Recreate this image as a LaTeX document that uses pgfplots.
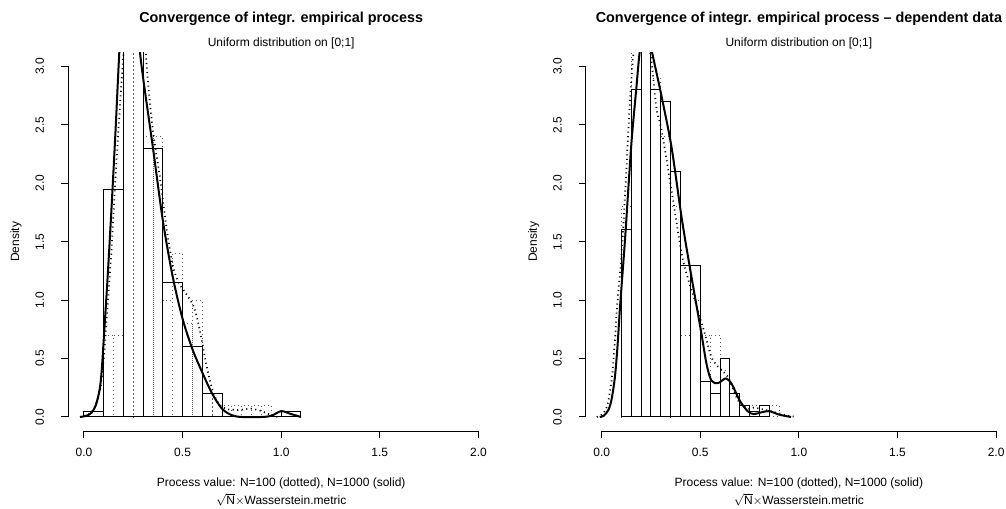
\documentclass[border=0pt]{standalone}
\usepackage{fontspec}
\setmainfont{Liberation Sans}
\usepackage{pgfplots}
\pgfplotsset{compat=1.18}
\pgfplotsset{
 rpanel/.style={
  scale only axis, width=319.5pt, height=284.0pt,
  xmin=-0.08, xmax=2.08, ymin=-0.12, ymax=3.12,
  axis line style={draw=none},
  tick pos=left, tick align=outside,
  major tick length=5.25pt,
  tick style={black, line width=0.75pt},
  xtick={0,0.5,1,1.5,2}, ytick={0,0.5,1,1.5,2,2.5,3},
  minor tick num=0,
  /pgf/number format/fixed, /pgf/number format/fixed zerofill,
  /pgf/number format/precision=1, /pgf/number format/assume math mode=true,
  ticklabel style={font=\fontsize{9}{10}\selectfont, inner sep=0pt},
  xticklabel style={anchor=north},
  yticklabel style={rotate=90, anchor=south},
  xticklabel shift=7.3pt, yticklabel shift=12.7pt,
  clip mode=individual,
 },
 solidhist/.style={ybar interval, draw=black, line width=0.75pt, fill=none},
 dothist/.style={ybar interval, draw=black!65, line width=0.75pt, fill=none, dash pattern=on 0.75pt off 2.25pt},
 soliddens/.style={black, line width=1.5pt, smooth, tension=0.5, mark=none},
 dotdens/.style={black, line width=1.3pt, smooth, tension=0.5, mark=none, dash pattern=on 0.8pt off 2.6pt},
}
\begin{document}
\begin{tikzpicture}
% ---------------- left panel ----------------
\begin{scope}[shift={(51.15pt,57.75pt)}]
\begin{axis}[rpanel, at={(0pt,0pt)}, anchor=south west]
\addplot[dothist] coordinates {(0.10,0.7) (0.15,0.7) (0.20,4.3) (0.25,4.4) (0.30,2.4) (0.35,2.4) (0.40,1.0) (0.45,1.4) (0.50,0.8) (0.55,1.0) (0.60,0.2) (0.65,0.2) (0.70,0.1) (0.75,0.1) (0.80,0.1) (0.85,0.1) (0.90,0.1) (0.95,0)};
\addplot[solidhist] coordinates {(0,0.05) (0.1,1.95) (0.2,3.7) (0.3,2.3) (0.4,1.15) (0.5,0.6) (0.6,0.2) (0.7,0) (0.8,0) (0.9,0) (1.0,0.05) (1.1,0)};
\addplot[dotdens] coordinates {(-0.02,0) (0.02,0.02) (0.05,0.07) (0.08,0.22) (0.1,0.5) (0.12,0.95) (0.14,1.45) (0.16,2.05) (0.18,2.6) (0.2,3.1) (0.23,3.8) (0.26,4.1) (0.29,3.8) (0.318,3.0) (0.35,2.45) (0.385,2.05) (0.42,1.6) (0.45,1.3) (0.48,1.15) (0.52,1.05) (0.56,0.93) (0.59,0.72) (0.62,0.45) (0.65,0.24) (0.68,0.12) (0.72,0.07) (0.78,0.06) (0.85,0.07) (0.9,0.05) (0.95,0.015) (0.98,0)};
\addplot[soliddens] coordinates {(-0.02,0) (0.0,0.005) (0.02,0.015) (0.04,0.04) (0.06,0.1) (0.08,0.24) (0.09,0.4) (0.1,0.66) (0.12,1.2) (0.14,1.8) (0.16,2.45) (0.18,3.15) (0.2,3.7) (0.23,4.0) (0.26,3.75) (0.28,3.2) (0.3,2.9) (0.35,2.3) (0.4,1.68) (0.45,1.2) (0.5,0.84) (0.55,0.58) (0.6,0.38) (0.65,0.2) (0.7,0.07) (0.75,0.015) (0.8,0.0) (0.9,0.0) (0.95,0.01) (1.0,0.05) (1.05,0.025) (1.1,0.0)};
\draw[line width=0.75pt] (axis cs:0,-0.12) -- (axis cs:2,-0.12);
\draw[line width=0.75pt] (axis cs:-0.08,0) -- (axis cs:-0.08,3);
\end{axis}
\end{scope}
% ---------------- right panel ----------------
\begin{scope}[shift={(439.425pt,57.75pt)}]
\begin{axis}[rpanel, at={(0pt,0pt)}, anchor=south west]
\addplot[dothist] coordinates {(0.10,1.8) (0.15,3.2) (0.20,3.6) (0.25,2.9) (0.30,2.4) (0.35,1.8) (0.40,0.7) (0.45,1.0) (0.50,0.7) (0.55,0.7) (0.60,0.4) (0.65,0.2) (0.70,0.1) (0.75,0.1) (0.80,0.1) (0.85,0.1) (0.90,0)};
\addplot[solidhist] coordinates {(0.10,1.6) (0.15,2.8) (0.20,3.95) (0.25,2.8) (0.30,2.7) (0.35,2.1) (0.40,1.3) (0.45,1.3) (0.50,0.3) (0.55,0.2) (0.60,0.5) (0.65,0.2) (0.70,0.1) (0.75,0.05) (0.80,0.1) (0.85,0)};
\addplot[dotdens] coordinates {(-0.025,0) (0.0,0.02) (0.02,0.06) (0.035,0.15) (0.052,0.34) (0.065,0.6) (0.078,0.94) (0.101,1.4) (0.12,1.95) (0.137,2.5) (0.155,3.0) (0.18,3.4) (0.2,3.5) (0.225,3.35) (0.253,3.03) (0.278,2.64) (0.304,2.45) (0.354,1.94) (0.405,1.40) (0.44,1.17) (0.472,1.0) (0.523,0.71) (0.557,0.51) (0.59,0.43) (0.641,0.34) (0.692,0.14) (0.742,0.07) (0.77,0.08) (0.83,0.06) (0.9,0.03) (0.95,0.01) (0.99,0)};
\addplot[soliddens] coordinates {(-0.01,0) (0.01,0.01) (0.034,0.06) (0.05,0.15) (0.067,0.34) (0.08,0.6) (0.093,0.94) (0.118,1.51) (0.135,1.95) (0.152,2.37) (0.175,2.8) (0.194,3.14) (0.222,3.4) (0.253,3.14) (0.28,2.93) (0.304,2.74) (0.354,2.31) (0.405,1.71) (0.447,1.28) (0.503,0.74) (0.532,0.45) (0.557,0.31) (0.59,0.29) (0.63,0.33) (0.66,0.28) (0.70,0.14) (0.74,0.05) (0.77,0.025) (0.81,0.04) (0.85,0.05) (0.9,0.02) (0.96,0)};
\draw[line width=0.75pt] (axis cs:0,-0.12) -- (axis cs:2,-0.12);
\draw[line width=0.75pt] (axis cs:-0.08,0) -- (axis cs:-0.08,3);
\end{axis}
\end{scope}
% ---------------- texts ----------------
\begin{scope}[x=0.75pt,y=0.75pt,every node/.style={inner sep=0pt, font=\fontsize{9}{10}\selectfont}]
\node[font=\bfseries\fontsize{10.8}{13}\selectfont] at (281.2,489) {Convergence of integr. empirical process};
\node[font=\bfseries\fontsize{10.8}{13}\selectfont] at (798.9,489) {Convergence of integr. empirical process – dependent data};
\node at (281.2,465) {Uniform distribution on [0;1]};
\node at (798.9,465) {Uniform distribution on [0;1]};
\node at (281.2,24.5) {Process value: N=100 (dotted), N=1000 (solid)};
\node at (798.9,24.5) {Process value: N=100 (dotted), N=1000 (solid)};
\node at (281.2,8.5) {$\sqrt{\mbox{N}}\times$Wasserstein.metric};
\node at (798.9,8.5) {$\sqrt{\mbox{N}}\times$Wasserstein.metric};
\node[rotate=90] at (16,266.3) {Density};
\node[rotate=90] at (533.7,266.3) {Density};
\pgfresetboundingbox
\path[use as bounding box] (0,0) rectangle (1006,508);
\end{scope}
\end{tikzpicture}
\end{document}
